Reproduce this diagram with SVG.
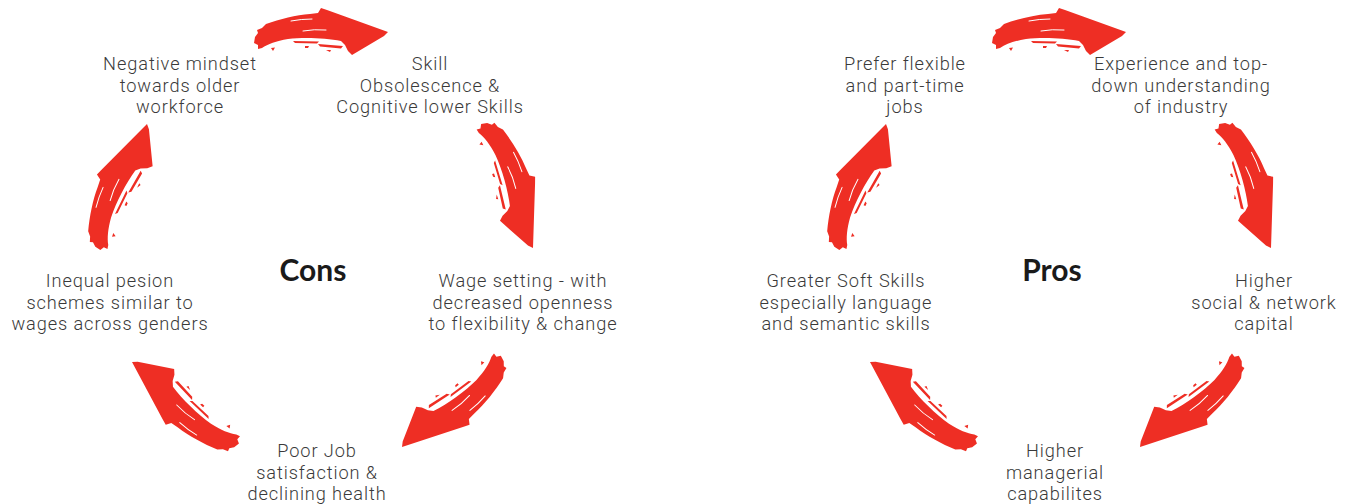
<svg xmlns="http://www.w3.org/2000/svg" xmlns:xlink="http://www.w3.org/1999/xlink" width="1352" height="504" viewBox="0 0 1352 504">
<style>
.t{font-family:"Roboto","Liberation Sans",sans-serif;font-weight:300;font-size:18.2px;letter-spacing:0.9px;fill:#3a3a3a;text-anchor:middle}
.h{font-family:"Lato","Liberation Sans",sans-serif;font-weight:700;font-size:30px;fill:#1a1a1a;text-anchor:middle}
.r{fill:#ee2e24}
.w{fill:none;stroke:#ffffff;stroke-width:1;stroke-linecap:round}
</style>
<defs>
<g id="arw">
<path class="r" d="M255,37 L258,33 L257,30 L262,28 L266,24 C280,19 296,15 310,14 L318,13 L321,8 L327,10 L388,32 L384,36 L352,55 L348,51 L345,45 L341,41 C326,38 304,37 288,39 C276,41 268,44 262,48 L258,49 L258,45 L254,43 Z"/>
<path class="r" d="M293,41 L319,41.5 L317,43.5 L295,43 Z M318,44 L343,46 L341,48.5 L320,46.5 Z M305,46 L309,46 L308,48 L305,48 Z M271,48 L275,47.5 L273,51 Z M326,50 L331,50 L330,52 Z"/>
<path class="w" d="M291,21 Q301,19 312,19 M303,31 Q314,29 326,30"/>
</g>
</defs>
<rect width="1352" height="504" fill="#ffffff"/>
<g id="connectors">
<use xlink:href="#arw"/>
<use xlink:href="#arw" transform="translate(533,248) rotate(72) translate(-388,-32)"/>
<use xlink:href="#arw" transform="translate(402,447) rotate(142) translate(-388,-32)"/>
<use xlink:href="#arw" transform="translate(132,362) rotate(222) translate(-388,-32)"/>
<use xlink:href="#arw" transform="translate(147,124) rotate(295) translate(-388,-32)"/>
<use xlink:href="#arw" transform="translate(738,0)"/>
<use xlink:href="#arw" transform="translate(1271,248) rotate(72) translate(-388,-32)"/>
<use xlink:href="#arw" transform="translate(1140,447) rotate(142) translate(-388,-32)"/>
<use xlink:href="#arw" transform="translate(870,362) rotate(222) translate(-388,-32)"/>
<use xlink:href="#arw" transform="translate(886,124) rotate(295) translate(-388,-32)"/>
</g>
<g id="cons"><text class="h" x="313" y="281">Cons</text></g>
<g id="c-negative"><text class="t" x="180" y="70">Negative mindset</text><text class="t" x="180" y="91.5">towards older</text><text class="t" x="180" y="113">workforce</text></g>
<g id="c-skill"><text class="t" x="430" y="70">Skill</text><text class="t" x="430" y="91.5">Obsolescence &amp;</text><text class="t" x="430" y="113">Cognitive lower Skills</text></g>
<g id="c-wage"><text class="t" x="523" y="287">Wage setting - with</text><text class="t" x="523" y="308.5">decreased openness</text><text class="t" x="523" y="330">to flexibility &amp; change</text></g>
<g id="c-pension"><text class="t" x="110" y="287">Inequal pesion</text><text class="t" x="110" y="308.5">schemes similar to</text><text class="t" x="110" y="330">wages across genders</text></g>
<g id="c-job"><text class="t" x="317" y="457">Poor Job</text><text class="t" x="317" y="478.5">satisfaction &amp;</text><text class="t" x="317" y="500">declining health</text></g>
<g id="pros"><text class="h" x="1052" y="281">Pros</text></g>
<g id="p-flex"><text class="t" x="905" y="70">Prefer flexible</text><text class="t" x="905" y="91.5">and part-time</text><text class="t" x="905" y="113">jobs</text></g>
<g id="p-exp"><text class="t" x="1181" y="70">Experience and top-</text><text class="t" x="1181" y="91.5">down understanding</text><text class="t" x="1181" y="113">of industry</text></g>
<g id="p-social"><text class="t" x="1264" y="287">Higher</text><text class="t" x="1264" y="308.5">social &amp; network</text><text class="t" x="1264" y="330">capital</text></g>
<g id="p-soft"><text class="t" x="846" y="287">Greater Soft Skills</text><text class="t" x="846" y="308.5">especially language</text><text class="t" x="846" y="330">and semantic skills</text></g>
<g id="p-mgr"><text class="t" x="1055" y="457">Higher</text><text class="t" x="1055" y="478.5">managerial</text><text class="t" x="1055" y="500">capabilites</text></g>
</svg>
